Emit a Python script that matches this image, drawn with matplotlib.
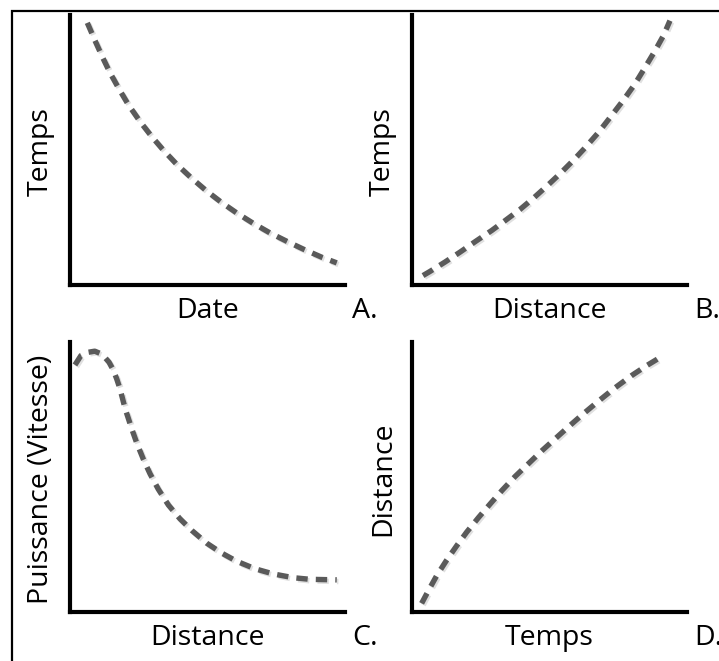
import matplotlib.pyplot as plt
import matplotlib.patheffects as pe
from matplotlib.patches import Rectangle

plt.rcParams['font.family'] = ['Open Sans', 'DejaVu Sans']

W, H = 719, 661

# curves, in axes fractions (x from the y axis, y from the x axis)
a_x = [0.063, 0.091, 0.119, 0.145, 0.176, 0.212, 0.255, 0.297, 0.339, 0.388,
       0.443, 0.497, 0.552, 0.606, 0.667, 0.727, 0.788, 0.848, 0.915, 0.970]
a_y = [0.971, 0.905, 0.842, 0.787, 0.730, 0.668, 0.605, 0.550, 0.500, 0.447,
       0.395, 0.348, 0.305, 0.267, 0.228, 0.193, 0.162, 0.133, 0.103, 0.082]

b_x = [0.040, 0.065, 0.120, 0.175, 0.229, 0.290, 0.338, 0.393, 0.442, 0.490,
       0.538, 0.587, 0.629, 0.678, 0.720, 0.769, 0.811, 0.847, 0.884, 0.915, 0.938]
b_y = [0.035, 0.050, 0.085, 0.122, 0.160, 0.202, 0.238, 0.280, 0.322, 0.366,
       0.412, 0.462, 0.508, 0.565, 0.620, 0.685, 0.745, 0.805, 0.868, 0.925, 0.979]

c_x = [0.018, 0.040, 0.067, 0.090, 0.109, 0.125, 0.142, 0.158, 0.170, 0.182,
       0.200, 0.224, 0.242, 0.267, 0.291, 0.321, 0.358, 0.400, 0.443, 0.497,
       0.552, 0.606, 0.673, 0.739, 0.812, 0.873, 0.970]
c_y = [0.915, 0.950, 0.962, 0.966, 0.958, 0.945, 0.925, 0.895, 0.863, 0.826,
       0.755, 0.680, 0.628, 0.565, 0.512, 0.455, 0.396, 0.345, 0.302, 0.255,
       0.218, 0.188, 0.160, 0.141, 0.127, 0.121, 0.119]

d_x = [0.035, 0.059, 0.090, 0.126, 0.163, 0.199, 0.242, 0.284, 0.327, 0.375,
       0.424, 0.472, 0.521, 0.569, 0.624, 0.684, 0.739, 0.799, 0.854, 0.914]
d_y = [0.032, 0.078, 0.135, 0.192, 0.246, 0.296, 0.350, 0.400, 0.450, 0.502,
       0.550, 0.597, 0.642, 0.686, 0.735, 0.786, 0.831, 0.876, 0.913, 0.950]

panels = [
    # x, y, y label, x label, letter, pixel box (left, top, right, bottom)
    (a_x, a_y, 'Temps', 'Date', 'A.', (70, 15, 345, 285)),
    (b_x, b_y, 'Temps', 'Distance', 'B.', (412, 15, 687, 285)),
    (c_x, c_y, 'Puissance (Vitesse)', 'Distance', 'C.', (70, 342, 345, 612)),
    (d_x, d_y, 'Distance', 'Temps', 'D.', (412, 342, 687, 612)),
]

fig = plt.figure(figsize=(W / 100, H / 100), dpi=100)

# outer frame, only its left and top edges are inside the picture
fig.patches.append(Rectangle((12 / W, -0.1), 1.2, (661 - 11) / H + 0.1,
                             transform=fig.transFigure, fill=False,
                             edgecolor='black', linewidth=1.6))

fs = 20.5
for xs, ys, ylab, xlab, letter, (l, t, r, b) in panels:
    ax = fig.add_axes([l / W, (H - b) / H, (r - l) / W, (b - t) / H])
    ax.set_xlim(0, 1)
    ax.set_ylim(0, 1)
    ax.set_xticks([])
    ax.set_yticks([])
    ax.patch.set_alpha(0)
    for s in ['top', 'right']:
        ax.spines[s].set_visible(False)
    for s in ['left', 'bottom']:
        ax.spines[s].set_linewidth(3)
        ax.spines[s].set_capstyle('projecting')
    ax.plot(xs, ys, color='#5a5a5a', linewidth=3.9, dashes=(2.1, 1.5),
            solid_capstyle='butt', dash_capstyle='butt', clip_on=False,
            path_effects=[pe.SimpleLineShadow(offset=(1.2, -1.2), shadow_color='#999999', alpha=0.3),
                          pe.Normal()])

    cx = (l + r) / 2
    fig.text(cx / W, 1 - (b + 26) / H, xlab, ha='center', va='center', fontsize=fs)
    fig.text((l - 29) / W, 1 - ((t + b) / 2 + 2) / H, ylab, ha='center', va='center',
             rotation=90, fontsize=fs)
    fig.text((r + 7) / W, 1 - (b + 26) / H, letter, ha='left', va='center', fontsize=fs)

fig.savefig('out.png', dpi=100)
